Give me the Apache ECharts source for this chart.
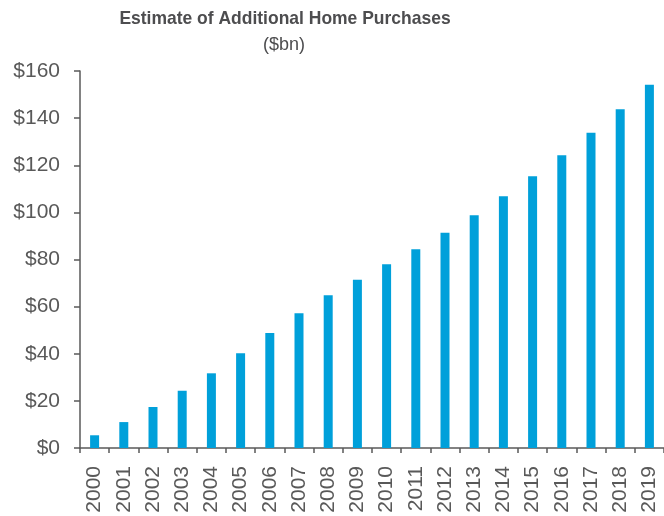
<!DOCTYPE html>
<html>
<head>
<meta charset="utf-8">
<script src="https://cdn.jsdelivr.net/npm/echarts@6/dist/echarts.min.js"></script>
<style>
html,body{margin:0;padding:0;background:#fff;}
#chart{width:664px;height:516px;}
</style>
</head>
<body>
<div id="chart"></div>
<script>
const categories = ['2000','2001','2002','2003','2004','2005','2006','2007','2008','2009','2010','2011','2012','2013','2014','2015','2016','2017','2018','2019'];
const purchases = [5.4, 11.0, 17.4, 24.3, 31.7, 40.2, 48.8, 57.2, 64.8, 71.4, 78.0, 84.3, 91.3, 98.8, 106.8, 115.3, 124.2, 133.8, 143.8, 154.2];
const yTicks = [0, 20, 40, 60, 80, 100, 120, 140, 160];
const titleText = 'Estimate of Additional Home Purchases';
const subtitleText = '($bn)';

const chart = echarts.init(document.getElementById('chart'), null, {renderer: 'canvas'});
const font = 'Liberation Sans, Arial, sans-serif';
chart.setOption({
  animation: false,
  backgroundColor: '#ffffff',
  graphic: [
    {type: 'text', x: 285, y: 19, scaleX: 0.92, style: {text: titleText, fontFamily: font, fontSize: 19, fontWeight: 'bold', fill: '#4d4d4f', textAlign: 'center', textVerticalAlign: 'middle'}},
    {type: 'text', x: 284, y: 45, style: {text: subtitleText, fontFamily: font, fontSize: 18, fill: '#4d4d4f', textAlign: 'center', textVerticalAlign: 'middle'}}
  ],
  grid: {left: 80, right: -2, top: 71, bottom: 68, containLabel: false},
  xAxis: {
    type: 'category',
    data: categories,
    axisLine: {lineStyle: {color: '#595959', width: 1.5}},
    axisTick: {show: true, length: 5, alignWithLabel: false, lineStyle: {color: '#595959', width: 1.5}},
    axisLabel: {rotate: 90, interval: 0, margin: 18, fontFamily: font, fontSize: 21, color: '#595959'}
  },
  yAxis: {
    type: 'value',
    min: yTicks[0],
    max: yTicks[yTicks.length - 1],
    interval: 20,
    splitLine: {show: false},
    axisLine: {show: true, lineStyle: {color: '#595959', width: 1.5}},
    axisTick: {show: true, length: 6, lineStyle: {color: '#595959', width: 1.5}},
    axisLabel: {margin: 20, fontFamily: font, fontSize: 21, color: '#595959', formatter: v => '$' + v}
  },
  series: [{
    type: 'bar',
    data: purchases,
    barWidth: 9,
    itemStyle: {color: '#00a0da'}
  }]
});
</script>
</body>
</html>
